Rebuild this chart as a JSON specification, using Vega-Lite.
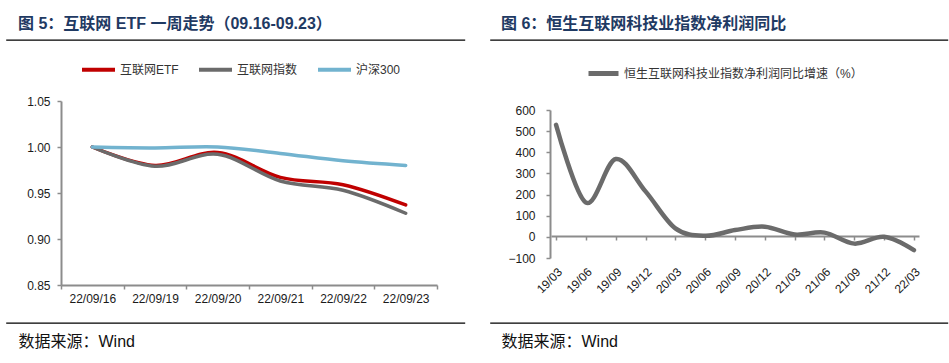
{
  "$schema": "https://vega.github.io/schema/vega-lite/v6.json",
  "padding": {"left": 5, "top": 15, "right": 0, "bottom": 0},
  "background": "white",
  "spacing": 23,
  "resolve": {"scale": {"color": "independent"}, "legend": {"color": "independent"}},
  "config": {
    "font": "Liberation Sans, Noto Sans CJK SC",
    "axis": {
      "domainColor": "#8c8c8c", "domainWidth": 2,
      "tickColor": "#8c8c8c", "tickWidth": 1.5, "tickSize": 4,
      "labelFont": "Liberation Sans", "labelFontSize": 12, "labelColor": "#1a1a1a",
      "grid": false,
      "titleFont": "Liberation Sans, Noto Sans CJK SC", "titleFontSize": 16, "titleFontWeight": "normal",
      "titleColor": "#111111", "titleAlign": "left", "titleBaseline": "middle", "titleAngle": 0
    },
    "legend": {
      "labelFont": "Liberation Sans, Noto Sans CJK SC", "labelFontSize": 12, "labelColor": "#333333",
      "padding": 0, "labelLimit": 0
    },
    "title": {
      "font": "Liberation Sans, Noto Sans CJK SC", "fontSize": 16, "fontWeight": "bold",
      "color": "#1F3A63", "anchor": "start", "frame": "group", "offset": 8
    }
  },
  "hconcat": [
    {
      "width": 459,
      "height": 283,
      "view": {"stroke": "black", "strokeWidth": 1.3, "strokeDash": [459, 283, 459, 283]},
      "title": {"text": "图 5：互联网 ETF 一周走势（09.16-09.23）", "dx": 12},
      "data": {"values": [
        {"date": "22/09/16", "series": "互联网ETF", "value": 1.000},
        {"date": "22/09/19", "series": "互联网ETF", "value": 0.980},
        {"date": "22/09/20", "series": "互联网ETF", "value": 0.994},
        {"date": "22/09/21", "series": "互联网ETF", "value": 0.967},
        {"date": "22/09/22", "series": "互联网ETF", "value": 0.959},
        {"date": "22/09/23", "series": "互联网ETF", "value": 0.937},
        {"date": "22/09/16", "series": "互联网指数", "value": 1.000},
        {"date": "22/09/19", "series": "互联网指数", "value": 0.979},
        {"date": "22/09/20", "series": "互联网指数", "value": 0.992},
        {"date": "22/09/21", "series": "互联网指数", "value": 0.963},
        {"date": "22/09/22", "series": "互联网指数", "value": 0.953},
        {"date": "22/09/23", "series": "互联网指数", "value": 0.928},
        {"date": "22/09/16", "series": "沪深300", "value": 1.000},
        {"date": "22/09/19", "series": "沪深300", "value": 0.999},
        {"date": "22/09/20", "series": "沪深300", "value": 1.000},
        {"date": "22/09/21", "series": "沪深300", "value": 0.993},
        {"date": "22/09/22", "series": "沪深300", "value": 0.985},
        {"date": "22/09/23", "series": "沪深300", "value": 0.980}
      ]},
      "mark": {"type": "line", "interpolate": "cardinal", "strokeWidth": 3.5, "strokeCap": "round"},
      "encoding": {
        "x": {
          "field": "date", "type": "ordinal", "sort": null, "bandPosition": 0.5,
          "scale": {"type": "band", "range": [55, 431], "paddingInner": 0, "paddingOuter": 0},
          "axis": {
            "title": "数据来源：Wind", "offset": -38, "tickBand": "extent", "labelAngle": 0,
            "labelPadding": 4, "titleX": 12, "titleY": 56
          }
        },
        "y": {
          "field": "value", "type": "quantitative",
          "scale": {"domain": [0.85, 1.05], "range": [245, 61], "nice": false, "zero": false},
          "axis": {"title": null, "offset": -55, "values": [0.85, 0.9, 0.95, 1, 1.05], "format": ".2f", "labelPadding": 7}
        },
        "color": {
          "field": "series", "type": "nominal",
          "scale": {"domain": ["互联网ETF", "互联网指数", "沪深300"], "range": ["#C00000", "#6B6B6B", "#72B3CF"]},
          "legend": {
            "orient": "none", "legendX": 74, "legendY": 11, "direction": "horizontal", "title": null,
            "symbolType": "stroke", "symbolSize": 1089, "symbolStrokeWidth": 4,
            "columnPadding": 12, "labelOffset": 3
          }
        }
      }
    },
    {
      "width": 458,
      "height": 283,
      "view": {"stroke": "black", "strokeWidth": 1.3, "strokeDash": [458, 283, 458, 283]},
      "title": {"text": "图 6：恒生互联网科技业指数净利润同比", "dx": 11},
      "data": {"values": [
        {"q": "19/03", "v": 530, "s": "恒生互联网科技业指数净利润同比增速（%）"},
        {"q": "19/06", "v": 162, "s": "恒生互联网科技业指数净利润同比增速（%）"},
        {"q": "19/09", "v": 368, "s": "恒生互联网科技业指数净利润同比增速（%）"},
        {"q": "19/12", "v": 215, "s": "恒生互联网科技业指数净利润同比增速（%）"},
        {"q": "20/03", "v": 40, "s": "恒生互联网科技业指数净利润同比增速（%）"},
        {"q": "20/06", "v": 5, "s": "恒生互联网科技业指数净利润同比增速（%）"},
        {"q": "20/09", "v": 32, "s": "恒生互联网科技业指数净利润同比增速（%）"},
        {"q": "20/12", "v": 48, "s": "恒生互联网科技业指数净利润同比增速（%）"},
        {"q": "21/03", "v": 11, "s": "恒生互联网科技业指数净利润同比增速（%）"},
        {"q": "21/06", "v": 20, "s": "恒生互联网科技业指数净利润同比增速（%）"},
        {"q": "21/09", "v": -32, "s": "恒生互联网科技业指数净利润同比增速（%）"},
        {"q": "21/12", "v": 0, "s": "恒生互联网科技业指数净利润同比增速（%）"},
        {"q": "22/03", "v": -63, "s": "恒生互联网科技业指数净利润同比增速（%）"}
      ]},
      "mark": {"type": "line", "interpolate": "cardinal", "strokeWidth": 4.5, "strokeCap": "round"},
      "encoding": {
        "x": {
          "field": "q", "type": "ordinal", "sort": null,
          "scale": {"type": "point", "range": [61, 429], "padding": 0.17},
          "axis": {
            "title": "数据来源：Wind", "offset": -87, "labelAngle": -45, "labelPadding": 26,
            "titleX": 11, "titleY": 105
          }
        },
        "y": {
          "field": "v", "type": "quantitative",
          "scale": {"domain": [-100, 600], "range": [218, 70], "nice": false, "zero": false},
          "axis": {"title": null, "offset": -60, "values": [-100, 0, 100, 200, 300, 400, 500, 600], "labelPadding": 11}
        },
        "color": {
          "field": "s", "type": "nominal",
          "scale": {"range": ["#6B6B6B"]},
          "legend": {
            "orient": "none", "legendX": 96, "legendY": 16, "direction": "horizontal", "title": null,
            "symbolType": "stroke", "symbolSize": 900, "symbolStrokeWidth": 5, "labelOffset": 3
          }
        }
      }
    }
  ]
}
